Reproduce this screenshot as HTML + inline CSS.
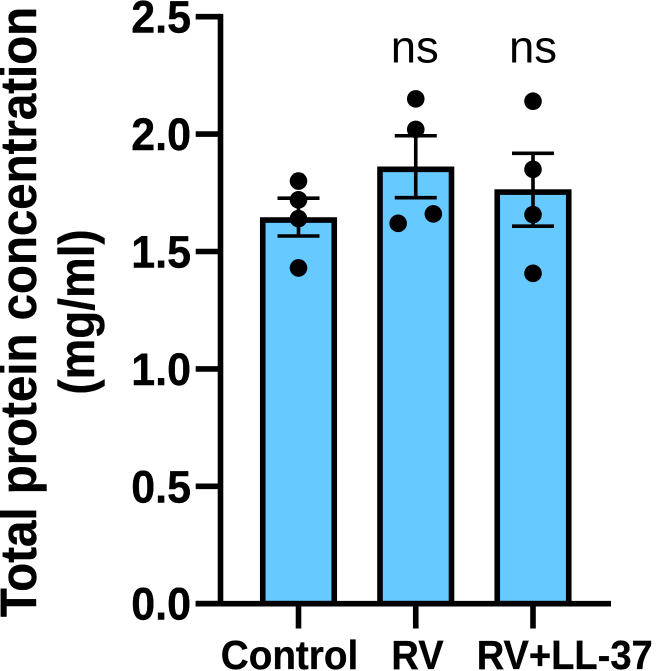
<!DOCTYPE html>
<html>
<head>
<meta charset="utf-8">
<style>
html,body{margin:0;padding:0;background:#fff;}
svg{display:block;}
text{font-family:"Liberation Sans",sans-serif;fill:#000;}
</style>
</head>
<body>
<svg id="chart" xmlns="http://www.w3.org/2000/svg" width="656" height="671" viewBox="0 0 656 671"></svg>
<script>
const categories = ["Control", "RV", "RV+LL-37"];
const barValues = [1.634, 1.85, 1.753];
const errorUpper = [1.727, 1.993, 1.918];
const errorLower = [1.566, 1.729, 1.608];
const pointValues = [
  [1.80, 1.72, 1.64, 1.43],
  [2.15, 2.02, 1.66, 1.62],
  [2.14, 1.85, 1.657, 1.407]
];
const pointOffsets = [
  [0, 0, 0, 0],
  [0, 0, 0.15, -0.15],
  [0, 0, 0, 0]
];
const yTicks = [0, 0.5, 1, 1.5, 2, 2.5];
const yTickLabels = ["0.0", "0.5", "1.0", "1.5", "2.0", "2.5"];
const annotations = ["", "ns", "ns"];

const svg = document.getElementById('chart');
const NS = 'http://www.w3.org/2000/svg';
function yScale(v) { return 603.7 - v * 234.8; }
function xScale(i) { return 298.5 + i * 117.25; }
function add(tag, attrs, parent) {
  const el = document.createElementNS(NS, tag);
  for (const k in attrs) el.setAttribute(k, attrs[k]);
  (parent || svg).appendChild(el);
  return el;
}
const BAR_W = 71.5;
const LABEL_SHIFT = [-9, 1.75, 31.7];
const LABEL_SCALE = [0.955, 0.94, 0.94];
const NS_SHIFT = [0, -1, 0];

categories.forEach(function (c, i) {
  const top = yScale(barValues[i]);
  const bar = add('rect', { x: xScale(i) - BAR_W / 2, y: top, width: BAR_W, height: yScale(0) - top, fill: '#66c9ff', stroke: '#000', 'stroke-width': 5.6 });
  
  
});

categories.forEach(function (c, i) {
  const x = xScale(i), hi = yScale(errorUpper[i]), lo = yScale(errorLower[i]);
  const g = add('g', { stroke: '#000', 'stroke-width': 3.6 });
  
  
  add('line', { x1: x, x2: x, y1: hi, y2: lo }, g);
  add('line', { x1: x - 21, x2: x + 21, y1: hi, y2: hi }, g);
  add('line', { x1: x - 21, x2: x + 21, y1: lo, y2: lo }, g);
});

pointValues.forEach(function (vals, i) {
  vals.forEach(function (v, j) {
    const p = add('circle', { cx: xScale(i + pointOffsets[i][j]), cy: yScale(v), r: 8.8, fill: '#000' });
    
    
  });
});

const yAxis = add('line', { x1: 220.5, x2: 220.5, y1: yScale(2.5) - 2.8, y2: yScale(0) + 2.8, stroke: '#000', 'stroke-width': 5.6 });


const xAxis = add('line', { x1: 195.7, x2: 611, y1: yScale(0), y2: yScale(0), stroke: '#000', 'stroke-width': 5.6 });



yTicks.forEach(function (v, i) {
  const t = add('line', { x1: 195.7, x2: 220.5, y1: yScale(v), y2: yScale(v), stroke: '#000', 'stroke-width': 5.6 });
  
  
  const l = add('text', { transform: 'translate(191 ' + (yScale(v) + 16) + ') scale(0.955 1)', 'text-anchor': 'end', 'font-size': 45, 'font-weight': 'bold', stroke: '#000', 'stroke-width': 0.4 });
  l.textContent = yTickLabels[i];
  
  
});

categories.forEach(function (c, i) {
  const x = xScale(i);
  const t = add('line', { x1: x, x2: x, y1: yScale(0), y2: 628.5, stroke: '#000', 'stroke-width': 5.6 });
  
  
  const l = add('text', { transform: 'translate(' + (x + LABEL_SHIFT[i]) + ' 669) scale(' + LABEL_SCALE[i] + ' 1)', 'text-anchor': 'middle', 'font-size': 40.5, 'font-weight': 'bold', stroke: '#000', 'stroke-width': 0.3 });
  l.textContent = c;
  
  
  if (annotations[i]) {
    const a = add('text', { x: x + NS_SHIFT[i], y: 62.5, 'text-anchor': 'middle', 'font-size': 45.5 });
    a.textContent = annotations[i];
    
    
  }
});

const t1 = add('text', { transform: 'translate(36 312) rotate(-90) scale(0.93 1)', 'text-anchor': 'middle', 'font-size': 51, 'font-weight': 'bold', stroke: '#000', 'stroke-width': 0.4 });
t1.textContent = 'Total protein concentration';


const t2 = add('text', { transform: 'translate(94 312) rotate(-90) scale(0.916 1)', 'text-anchor': 'middle', 'font-size': 50, 'font-weight': 'bold', stroke: '#000', 'stroke-width': 0.4 });
t2.textContent = '(mg/ml)';


</script>
</body>
</html>
